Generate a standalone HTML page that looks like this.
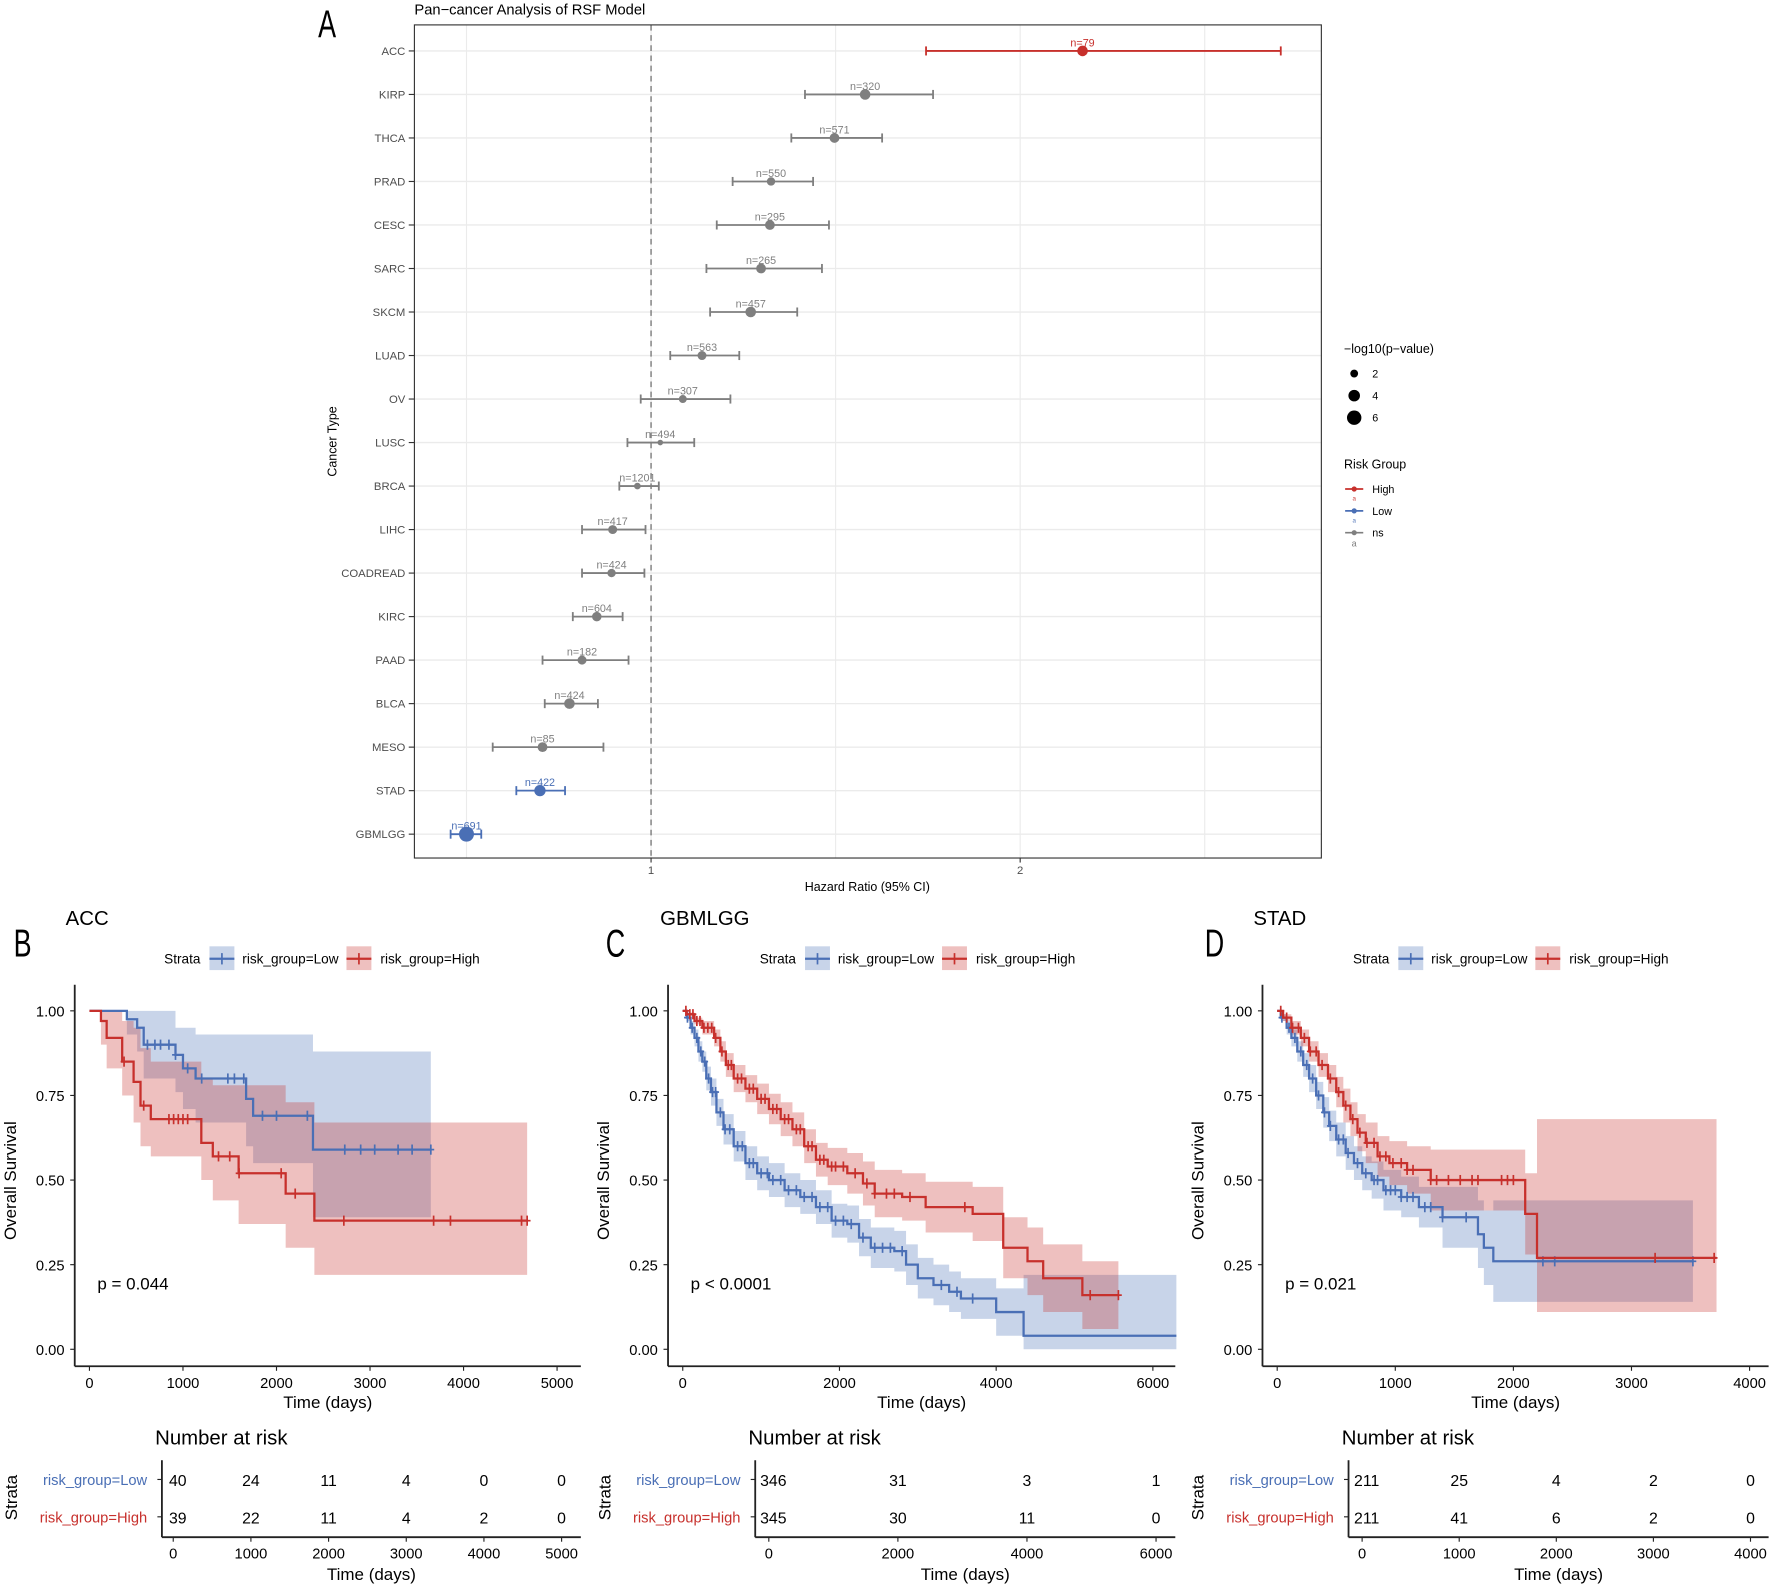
<!DOCTYPE html>
<html><head><meta charset="utf-8"><style>
html,body{margin:0;padding:0;background:#fff;}
svg{display:block;font-family:"Liberation Sans",sans-serif;}
</style></head><body>
<svg id="fig" width="1772" height="1587" viewBox="0 0 1565 1402" preserveAspectRatio="none" xmlns="http://www.w3.org/2000/svg"></svg>
<script>
// ---------- Panel A data ----------
const cancers=["ACC","KIRP","THCA","PRAD","CESC","SARC","SKCM","LUAD","OV","LUSC","BRCA","LIHC","COADREAD","KIRC","PAAD","BLCA","MESO","STAD","GBMLGG"];
const hr=[2.169,1.580,1.497,1.325,1.322,1.298,1.270,1.138,1.086,1.025,0.963,0.896,0.893,0.853,0.813,0.779,0.706,0.699,0.500];
const hrLo=[1.745,1.417,1.380,1.221,1.178,1.150,1.160,1.052,0.972,0.936,0.914,0.813,0.813,0.788,0.706,0.712,0.571,0.635,0.457];
const hrHi=[2.706,1.764,1.626,1.439,1.482,1.463,1.396,1.239,1.215,1.117,1.021,0.985,0.982,0.923,0.939,0.856,0.871,0.767,0.540];
const nSamples=[79,320,571,550,295,265,457,563,307,494,1201,417,424,604,182,424,85,422,691];
const logp=[3.5,3.5,3,2.2,3,3,3.5,2.5,2,1,1.4,2.5,2.2,2.8,2.5,3.5,3,4,7];
const groups=["High","ns","ns","ns","ns","ns","ns","ns","ns","ns","ns","ns","ns","ns","ns","ns","ns","Low","Low"];
const xTicksA=[1,2];

// ---------- KM data ----------
const accLowT=[0,400,510,580,920,1000,1135,1675,1750,2390];
const accLowS=[1,0.975,0.95,0.90,0.87,0.83,0.80,0.74,0.69,0.59];
const accLowL=[1,0.93,0.88,0.80,0.76,0.71,0.67,0.60,0.55,0.39];
const accLowH=[1,1,1,1,0.95,0.95,0.93,0.93,0.93,0.88];
const accLowC=[620,700,760,850,920,1050,1200,1480,1550,1650,1850,2000,2330,2730,2900,3050,3300,3450,3650];
const accHighT=[0,123,184,350,472,546,656,1196,1319,1595,2098,2405];
const accHighS=[1,0.97,0.92,0.85,0.79,0.72,0.68,0.61,0.57,0.52,0.46,0.38];
const accHighL=[1,0.90,0.83,0.75,0.67,0.60,0.57,0.50,0.44,0.37,0.30,0.22];
const accHighH=[1,1,1,0.97,0.95,0.89,0.85,0.80,0.78,0.78,0.73,0.67];
const accHighC=[370,580,850,900,950,1000,1050,1380,1500,1600,2050,2200,2720,3680,3860,4620,4680];
const gbmLowT=[0,50,100,150,200,250,300,360,430,520,650,800,950,1100,1300,1500,1700,1900,2100,2250,2400,2700,2850,3000,3200,3400,3550,4000,4350];
const gbmLowS=[1,0.98,0.95,0.92,0.88,0.85,0.80,0.76,0.70,0.65,0.60,0.55,0.52,0.50,0.47,0.45,0.42,0.38,0.37,0.33,0.30,0.29,0.25,0.21,0.19,0.17,0.15,0.11,0.04];
const gbmLowW=[0,0.01,0.02,0.025,0.03,0.03,0.035,0.04,0.04,0.045,0.045,0.05,0.05,0.05,0.05,0.05,0.05,0.05,0.055,0.055,0.06,0.06,0.06,0.06,0.06,0.06,0.06,0.07,0.18];
const gbmLowC=[60,120,180,230,280,330,380,420,480,540,600,700,760,850,900,1000,1080,1150,1250,1350,1450,1550,1650,1750,1850,1950,2050,2150,2300,2450,2550,2650,2800,3300,3500,3700];
const gbmHighT=[0,50,150,250,400,480,550,650,800,950,1100,1250,1400,1550,1700,1850,2100,2300,2450,2800,3100,3700,4090,4400,4600,5100];
const gbmHighS=[1,0.99,0.97,0.95,0.92,0.88,0.84,0.80,0.77,0.74,0.71,0.68,0.65,0.60,0.56,0.54,0.52,0.49,0.46,0.45,0.42,0.40,0.30,0.26,0.21,0.16];
const gbmHighW=[0,0.005,0.01,0.02,0.025,0.03,0.035,0.04,0.04,0.045,0.045,0.05,0.05,0.05,0.05,0.055,0.06,0.065,0.07,0.07,0.075,0.08,0.09,0.1,0.1,0.1];
const gbmHighC=[40,90,130,180,220,270,320,370,420,500,580,620,700,750,850,900,1000,1050,1150,1200,1300,1350,1450,1500,1600,1650,1750,1800,1900,1950,2050,2200,2350,2450,2600,2700,2900,3600,5200,5560];
const stadLowT=[0,30,80,120,170,220,270,330,390,440,500,580,650,720,800,900,1050,1200,1400,1700,1750,1830];
const stadLowS=[1,0.98,0.95,0.92,0.88,0.84,0.80,0.75,0.70,0.66,0.62,0.58,0.55,0.52,0.50,0.47,0.45,0.42,0.39,0.34,0.30,0.26];
const stadLowW=[0,0.01,0.02,0.025,0.03,0.035,0.04,0.04,0.045,0.045,0.05,0.05,0.05,0.05,0.055,0.06,0.06,0.06,0.09,0.1,0.11,0.12];
const stadLowC=[40,100,150,200,250,300,350,400,450,520,560,600,680,750,820,850,920,960,1000,1050,1100,1150,1250,1300,1400,1600,2250,2350,3520];
const stadHighT=[0,50,120,200,270,350,430,500,560,620,680,750,850,950,1100,1300,2100,2200];
const stadHighS=[1,0.98,0.95,0.92,0.88,0.84,0.80,0.76,0.72,0.68,0.64,0.61,0.57,0.55,0.53,0.50,0.40,0.27];
const stadHighW=[0,0.01,0.02,0.025,0.03,0.035,0.04,0.045,0.05,0.05,0.055,0.06,0.06,0.065,0.07,0.09,0.12,0.2];
const stadHighC=[30,80,130,180,230,280,330,380,450,520,580,640,700,760,820,870,920,980,1050,1100,1150,1300,1350,1450,1550,1650,1700,1900,1950,2000,3200,3700];
const accTicks=[0,1000,2000,3000,4000,5000];
const gbmTicks=[0,2000,4000,6000];
const stadTicks=[0,1000,2000,3000,4000];
const survTicks=[0,0.25,0.5,0.75,1];
const accRiskLow=[40,24,11,4,0,0], accRiskHigh=[39,22,11,4,2,0];
const gbmRiskLow=[346,31,3,1], gbmRiskHigh=[345,30,11,0];
const stadRiskLow=[211,25,4,2,0], stadRiskHigh=[211,41,6,2,0];

const svg=document.getElementById('fig');
const NS='http://www.w3.org/2000/svg';
function el(tag,attrs,parent,text){const e=document.createElementNS(NS,tag);for(const k in attrs)e.setAttribute(k,attrs[k]);if(text!==undefined)e.textContent=text;(parent||svg).appendChild(e);return e;}
const BLUE='#4a6fb5',RED='#c7302c',GRAY='#7f7f7f';

// ---------- Panel A ----------
const gA=el('g',{});


const xA=v=>575+(v-1)*326;
const yA=i=>45+i*38.44;
let t;
t=el('text',{x:281,y:33,'font-size':34,transform:'translate(281 33) scale(0.7 1) translate(-281 -33)'},gA,'A');

t=el('text',{x:366,y:13,'font-size':13},gA,'Pan−cancer Analysis of RSF Model');

[0.5,1,1.5,2,2.5].forEach(v=>el('line',{x1:xA(v),x2:xA(v),y1:22,y2:758,stroke:'#ebebeb','stroke-width':1},gA));
cancers.forEach((c,i)=>{el('line',{x1:366,x2:1167,y1:yA(i),y2:yA(i),stroke:'#ebebeb','stroke-width':1.2},gA);});
el('line',{x1:xA(1),x2:xA(1),y1:22,y2:758,stroke:'#777','stroke-width':1.2,'stroke-dasharray':'5,4'},gA);
const fr=el('rect',{x:366,y:22,width:801,height:736,fill:'none',stroke:'#333','stroke-width':1},gA);

cancers.forEach((c,i)=>{
  const y=yA(i);const col=groups[i]==='High'?RED:groups[i]==='Low'?BLUE:GRAY;
  const lab=el('text',{x:358,y:y+3.5,'font-size':10,'text-anchor':'end',fill:'#4d4d4d'},gA,c);
  
  el('line',{x1:361,x2:366,y1:y,y2:y,stroke:'#333'},gA);
  const g=el('g',{},gA);
  
  el('line',{x1:xA(hrLo[i]),x2:xA(hrHi[i]),y1:y,y2:y,stroke:col,'stroke-width':1.6},g);
  el('line',{x1:xA(hrLo[i]),x2:xA(hrLo[i]),y1:y-4,y2:y+4,stroke:col,'stroke-width':1.6},g);
  el('line',{x1:xA(hrHi[i]),x2:xA(hrHi[i]),y1:y-4,y2:y+4,stroke:col,'stroke-width':1.6},g);
  el('circle',{cx:xA(hr[i]),cy:y,r:2.5*Math.sqrt(logp[i]),fill:col},g);
  el('text',{x:xA(hr[i]),y:y-4,'font-size':9.5,'text-anchor':'middle',fill:col},g,'n='+nSamples[i]);
});
xTicksA.forEach(v=>{el('line',{x1:xA(v),x2:xA(v),y1:758,y2:762,stroke:'#333'},gA);
  const tl=el('text',{x:xA(v),y:772,'font-size':10,'text-anchor':'middle',fill:'#4d4d4d'},gA,String(v));
  });
t=el('text',{x:766,y:787,'font-size':11,'text-anchor':'middle'},gA,'Hazard Ratio (95% CI)');

t=el('text',{x:297,y:390,'font-size':11,'text-anchor':'middle',transform:'rotate(-90 297 390)'},gA,'Cancer Type');

const lg=el('g',{},gA);
el('text',{x:1187,y:312,'font-size':11},lg,'−log10(p−value)');
[2,4,6].forEach((v,k)=>{const y=330+k*19.5;el('circle',{cx:1196,cy:y,r:2.8*Math.sqrt(v)-0.5,fill:'#000'},lg);el('text',{x:1212,y:y+3.5,'font-size':9.5},lg,String(v));});
el('text',{x:1187,y:414,'font-size':11},lg,'Risk Group');
[['High',RED],['Low',BLUE],['ns',GRAY]].forEach((p,k)=>{const y=432+k*19.3;const ge=el('g',{},lg);
 
 el('line',{x1:1188,x2:1204,y1:y,y2:y,stroke:p[1],'stroke-width':1.5},ge);el('circle',{cx:1196,cy:y,r:2.3,fill:p[1]},ge);
 el('text',{x:1212,y:y+3.5,'font-size':9.5},ge,p[0]);
 el('text',{x:1196,y:y+12,'font-size':8,'text-anchor':'middle',fill:p[1]},ge,k==2?'a':'ᵃ');});

// ---------- KM panels ----------
function stepAt(T,S,c){let s=S[0];for(let i=0;i<T.length;i++){if(T[i]<=c)s=S[i];}return s;}
function stepPath(T,V,end,X,Y){let d='M'+X(T[0])+','+Y(V[0]);for(let i=1;i<T.length;i++){d+=' H'+X(T[i])+' V'+Y(V[i]);}d+=' H'+X(end);return d;}
function band(T,L,H,end,X,Y){let d='M'+X(T[0])+','+Y(H[0]);for(let i=1;i<T.length;i++)d+=' H'+X(T[i])+' V'+Y(H[i]);d+=' H'+X(end)+' V'+Y(L[L.length-1]);for(let i=T.length-1;i>=1;i--)d+=' H'+X(T[i])+' V'+Y(L[i-1]);d+=' H'+X(T[0])+' Z';return d;}
function kmPanel(o){
  const g=el('g',{});
  const X=v=>o.x0+v*o.kx, Y=s=>1192-s*299;
  t=el('text',{x:o.lx,y:845,'font-size':34,transform:`translate(${o.lx} 845) scale(0.7 1) translate(${-o.lx} -845)`},g,o.letter);
  
  t=el('text',{x:o.tx,y:817,'font-size':18},g,o.title);
  
  const L=el('g',{},g);
  el('text',{x:o.sx,y:851,'font-size':12},L,'Strata');
  el('rect',{x:o.sx+40,y:836,width:22,height:21,fill:'rgba(74,111,181,0.3)'},L);
  el('line',{x1:o.sx+40,x2:o.sx+62,y1:847,y2:847,stroke:BLUE,'stroke-width':2},L);el('line',{x1:o.sx+51,x2:o.sx+51,y1:842,y2:852,stroke:BLUE,'stroke-width':1.5},L);
  el('text',{x:o.sx+69,y:851,'font-size':12},L,'risk_group=Low');
  el('rect',{x:o.sx+161,y:836,width:22,height:21,fill:'rgba(199,48,44,0.3)'},L);
  el('line',{x1:o.sx+161,x2:o.sx+183,y1:847,y2:847,stroke:RED,'stroke-width':2},L);el('line',{x1:o.sx+172,x2:o.sx+172,y1:842,y2:852,stroke:RED,'stroke-width':1.5},L);
  el('text',{x:o.sx+191,y:851,'font-size':12},L,'risk_group=High');
  [[o.low,'rgba(74,111,181,0.3)','low'],[o.high,'rgba(199,48,44,0.3)','high']].forEach(([d,f,n])=>{
    const b=el('path',{d:band(d.T,d.L,d.H,d.end,X,Y),fill:f},g);});
  [[o.low,BLUE,'low'],[o.high,RED,'high']].forEach(([d,c,n])=>{
    const p=el('path',{d:stepPath(d.T,d.S,d.end,X,Y),fill:'none',stroke:c,'stroke-width':2},g);
    d.C.forEach(cc=>{const y=Y(stepAt(d.T,d.S,cc));el('line',{x1:X(cc),x2:X(cc),y1:y-4.5,y2:y+4.5,stroke:c,'stroke-width':1.5},g);el('line',{x1:X(cc)-3,x2:X(cc)+3,y1:y,y2:y,stroke:c,'stroke-width':1.5},g);});
  });
  el('line',{x1:o.ax,x2:o.ax,y1:870,y2:1207,stroke:'#222','stroke-width':1.6},g);
  el('line',{x1:o.ax,x2:o.aend,y1:1207,y2:1207,stroke:'#222','stroke-width':1.6},g);
  survTicks.forEach(s=>{el('line',{x1:o.ax-4,x2:o.ax,y1:Y(s),y2:Y(s),stroke:'#222'},g);el('text',{x:o.ax-9,y:Y(s)+5,'font-size':13,'text-anchor':'end'},g,s.toFixed(2));});
  o.ticks.forEach(v=>{el('line',{x1:X(v),x2:X(v),y1:1207,y2:1211,stroke:'#222'},g);el('text',{x:X(v),y:1226,'font-size':13,'text-anchor':'middle'},g,String(v));});
  t=el('text',{x:(o.ax+o.aend)/2,y:1244,'font-size':15,'text-anchor':'middle'},g,'Time (days)');
  t=el('text',{x:o.ax-52,y:1043,'font-size':15,'text-anchor':'middle',transform:`rotate(-90 ${o.ax-52} 1043)`},g,'Overall Survival');
  t=el('text',{x:o.ax+20,y:1139,'font-size':15},g,o.p);
  const R=el('g',{},g);
  const RX=v=>o.rx0+v*o.rkx;
  el('text',{x:o.tabx-6,y:1276,'font-size':18},R,'Number at risk');
  el('line',{x1:o.tabx,x2:o.tabx,y1:1290,y2:1358,stroke:'#222','stroke-width':1.6},R);
  el('line',{x1:o.tabx,x2:o.aend,y1:1358,y2:1358,stroke:'#222','stroke-width':1.6},R);
  el('text',{x:o.tabx-13,y:1312,'font-size':13,'text-anchor':'end',fill:BLUE},R,'risk_group=Low');
  el('text',{x:o.tabx-13,y:1345,'font-size':13,'text-anchor':'end',fill:RED},R,'risk_group=High');
  el('line',{x1:o.tabx-4,x2:o.tabx,y1:1307,y2:1307,stroke:'#222'},R);el('line',{x1:o.tabx-4,x2:o.tabx,y1:1340,y2:1340,stroke:'#222'},R);
  el('text',{x:o.tabx-128,y:1323,'font-size':15,'text-anchor':'middle',transform:`rotate(-90 ${o.tabx-128} 1323)`},R,'Strata');
  o.ticks.forEach((v,k)=>{
    el('text',{x:RX(v)+(k==0?4:0),y:1313,'font-size':14,'text-anchor':'middle'},R,String(o.rl[k]));
    el('text',{x:RX(v)+(k==0?4:0),y:1346,'font-size':14,'text-anchor':'middle'},R,String(o.rh[k]));
    el('line',{x1:RX(v),x2:RX(v),y1:1358,y2:1362,stroke:'#222'},R);
    el('text',{x:RX(v),y:1377,'font-size':13,'text-anchor':'middle'},R,String(v));});
  el('text',{x:(o.tabx+o.aend)/2,y:1396,'font-size':15,'text-anchor':'middle'},R,'Time (days)');
}
const wid=(S,W,sign)=>S.map((s,i)=>Math.max(0,Math.min(1,s+sign*W[i])));
kmPanel({id:'acc',letter:'B',title:'ACC',lx:12,tx:58,sx:145,x0:79,kx:413/5000,ax:66,aend:513,ticks:accTicks,p:'p = 0.044',
  low:{T:accLowT,S:accLowS,L:accLowL,H:accLowH,C:accLowC,end:3650},high:{T:accHighT,S:accHighS,L:accHighL,H:accHighH,C:accHighC,end:4680},
  tabx:143,rx0:153,rkx:343/5000,rl:accRiskLow,rh:accRiskHigh});
kmPanel({id:'gbmlgg',letter:'C',title:'GBMLGG',lx:535,tx:583,sx:671,x0:603,kx:0.0692,ax:590,aend:1038,ticks:gbmTicks,p:'p < 0.0001',
  low:{T:gbmLowT,S:gbmLowS,L:wid(gbmLowS,gbmLowW,-1),H:wid(gbmLowS,gbmLowW,1),C:gbmLowC,end:6300},high:{T:gbmHighT,S:gbmHighS,L:wid(gbmHighS,gbmHighW,-1),H:wid(gbmHighS,gbmHighW,1),C:gbmHighC,end:5560},
  tabx:667,rx0:679,rkx:342/6000,rl:gbmRiskLow,rh:gbmRiskHigh});
kmPanel({id:'stad',letter:'D',title:'STAD',lx:1064,tx:1107,sx:1195,x0:1128,kx:0.1043,ax:1115,aend:1562,ticks:stadTicks,p:'p = 0.021',
  low:{T:stadLowT,S:stadLowS,L:wid(stadLowS,stadLowW,-1),H:wid(stadLowS,stadLowW,1).map((v,i)=>i==stadLowW.length-1?0.44:v),C:stadLowC,end:3520},
  high:{T:stadHighT,S:stadHighS,L:wid(stadHighS,stadHighW,-1).map((v,i)=>i==stadHighW.length-1?0.11:v),H:wid(stadHighS,stadHighW,1).map((v,i)=>i==stadHighW.length-1?0.68:v),C:stadHighC,end:3720},
  tabx:1191,rx0:1203,rkx:343/4000,rl:stadRiskLow,rh:stadRiskHigh});
</script>
</body></html>
